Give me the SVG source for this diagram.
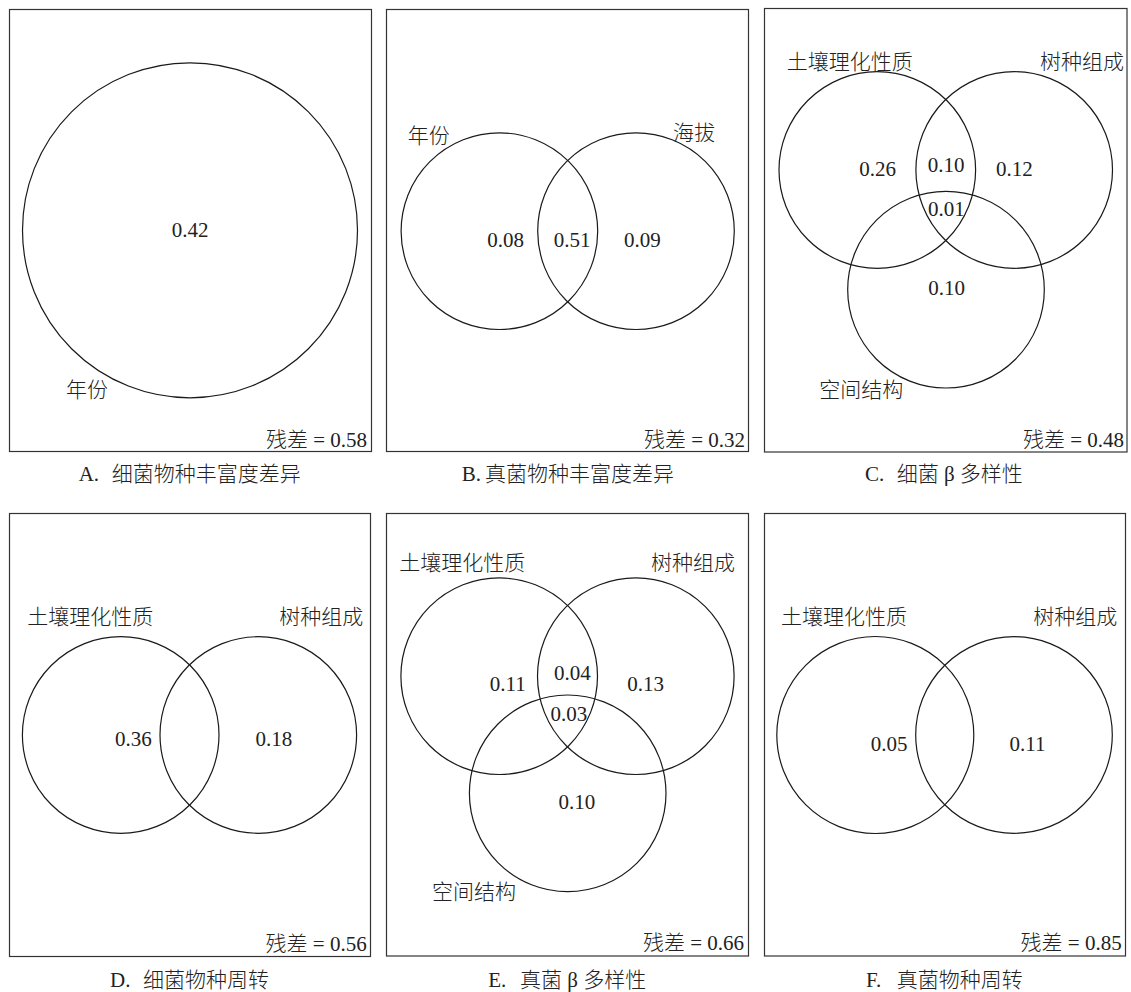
<svg xmlns="http://www.w3.org/2000/svg" width="1131" height="992" viewBox="0 0 1131 992">
<style>
.frame{fill:none;stroke:#333;stroke-width:1.2}
.c{fill:none;stroke:#1a1a1a;stroke-width:1.2}
text{font-family:"Liberation Serif","Noto Sans CJK SC",serif;font-size:21px;fill:#222;font-weight:300}
.n{text-anchor:middle}
.r{text-anchor:end}
</style>
<rect width="1131" height="992" fill="#fff"/>
<g id="panelA">
<rect class="frame" x="9.5" y="9.5" width="362" height="442"/>
<circle class="c" cx="190" cy="230.3" r="167.5"/>
<text class="n" x="190" y="236.7">0.42</text>
<text x="66" y="396.5">年份</text>
<text class="r" x="367" y="446.7">残差 = 0.58</text>
<text y="481"><tspan x="78.7">A.</tspan><tspan x="111.7">细菌物种丰富度差异</tspan></text>
</g>
<g id="panelB">
<rect class="frame" x="386.5" y="9.5" width="362" height="442"/>
<circle class="c" cx="499.4" cy="231.2" r="98.3"/>
<circle class="c" cx="636" cy="231.2" r="98.3"/>
<text x="407.7" y="143">年份</text>
<text x="673" y="140">海拔</text>
<text class="n" x="505.7" y="246.7">0.08</text>
<text class="n" x="572.2" y="246.7">0.51</text>
<text class="n" x="642.3" y="246.7">0.09</text>
<text class="r" x="745" y="446.7">残差 = 0.32</text>
<text y="481"><tspan x="461.7">B.</tspan><tspan x="485">真菌物种丰富度差异</tspan></text>
</g>
<g id="panelC">
<rect class="frame" x="764.5" y="8.5" width="362.5" height="443.5"/>
<circle class="c" cx="877.3" cy="170" r="98.3"/>
<circle class="c" cx="1014.2" cy="170" r="98.3"/>
<circle class="c" cx="946" cy="289.7" r="98.3"/>
<text x="786.7" y="68.5">土壤理化性质</text>
<text x="1040" y="68.5">树种组成</text>
<text x="819.3" y="397">空间结构</text>
<text class="n" x="877.7" y="175.7">0.26</text>
<text class="n" x="946" y="172.3">0.10</text>
<text class="n" x="1014.3" y="175.7">0.12</text>
<text class="n" x="946.3" y="216">0.01</text>
<text class="n" x="946.5" y="295">0.10</text>
<text class="r" x="1124" y="446.7">残差 = 0.48</text>
<text y="481"><tspan x="865">C.</tspan><tspan x="896.7">细菌 β 多样性</tspan></text>
</g>
<g id="panelD">
<rect class="frame" x="9.5" y="513.5" width="361" height="443"/>
<circle class="c" cx="120.7" cy="735" r="98.3"/>
<circle class="c" cx="258.3" cy="735" r="98.3"/>
<text x="27.3" y="623.5">土壤理化性质</text>
<text x="279.3" y="623.5">树种组成</text>
<text class="n" x="133.3" y="745.7">0.36</text>
<text class="n" x="273.8" y="745.7">0.18</text>
<text class="r" x="366.7" y="950.7">残差 = 0.56</text>
<text y="987"><tspan x="110">D.</tspan><tspan x="143">细菌物种周转</tspan></text>
</g>
<g id="panelE">
<rect class="frame" x="386.5" y="513.5" width="362" height="442.5"/>
<circle class="c" cx="499.2" cy="676.2" r="98.3"/>
<circle class="c" cx="635.8" cy="676.2" r="98.3"/>
<circle class="c" cx="567.7" cy="793.3" r="98.3"/>
<text x="399.3" y="570">土壤理化性质</text>
<text x="651" y="570">树种组成</text>
<text x="432" y="898.5">空间结构</text>
<text class="n" x="507.8" y="690.7">0.11</text>
<text class="n" x="572.3" y="680">0.04</text>
<text class="n" x="645.5" y="690.7">0.13</text>
<text class="n" x="568.8" y="720.7">0.03</text>
<text class="n" x="576.8" y="809.3">0.10</text>
<text class="r" x="744" y="950">残差 = 0.66</text>
<text y="987"><tspan x="488.3">E.</tspan><tspan x="520">真菌 β 多样性</tspan></text>
</g>
<g id="panelF">
<rect class="frame" x="764.5" y="513.5" width="361" height="442.5"/>
<circle class="c" cx="875.3" cy="735" r="98.5"/>
<circle class="c" cx="1014" cy="735" r="98.3"/>
<text x="781" y="623.5">土壤理化性质</text>
<text x="1033.3" y="623.5">树种组成</text>
<text class="n" x="889" y="750.7">0.05</text>
<text class="n" x="1027.5" y="750.7">0.11</text>
<text class="r" x="1121.7" y="950">残差 = 0.85</text>
<text y="987"><tspan x="866">F.</tspan><tspan x="896.7">真菌物种周转</tspan></text>
</g>
<g id="connectors"/>
</svg>
